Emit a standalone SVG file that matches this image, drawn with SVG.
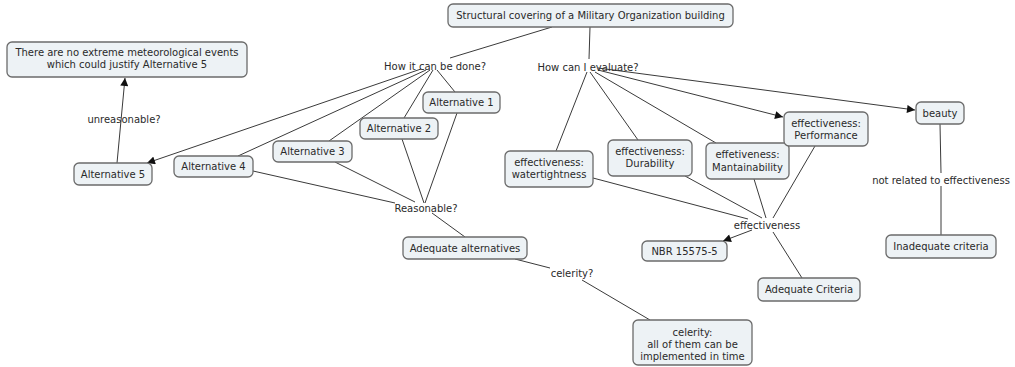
<svg xmlns="http://www.w3.org/2000/svg" width="1015" height="367" viewBox="0 0 1015 367">
<style>
.n rect{fill:#edf2f5;stroke:#6b6b6b;stroke-width:1.3}
text{font-family:"DejaVu Sans",Verdana,sans-serif;font-size:10px;fill:#2a2a2a;text-anchor:middle}
.c line{stroke:#3a3a3a;stroke-width:1;fill:none}
</style>
<defs>
<marker id="ar" viewBox="0 0 10 10" refX="10" refY="5" markerWidth="9" markerHeight="8" markerUnits="userSpaceOnUse" orient="auto">
<path d="M0,0 L10,5 L0,10 z" fill="#111"/>
</marker>
</defs>
<rect width="1015" height="367" fill="#fff"/>
<g class="c" id="connectors">
<line x1="552" y1="27" x2="450" y2="58"/>
<line x1="590" y1="27" x2="589" y2="59"/>
<line x1="437" y1="70" x2="455" y2="92"/>
<line x1="433" y1="70" x2="404" y2="118"/>
<line x1="430" y1="70" x2="329" y2="141"/>
<line x1="426" y1="70" x2="238" y2="156"/>
<line x1="421" y1="69" x2="147" y2="163" marker-end="url(#ar)"/>
<line x1="457" y1="113" x2="425" y2="203"/>
<line x1="402" y1="139" x2="424" y2="203"/>
<line x1="335" y1="162" x2="415" y2="202"/>
<line x1="253" y1="171" x2="395" y2="203"/>
<line x1="432" y1="213" x2="465" y2="237"/>
<line x1="515" y1="259" x2="550" y2="268"/>
<line x1="582" y1="280" x2="650" y2="320"/>
<line x1="117" y1="163" x2="125" y2="78" marker-end="url(#ar)"/>
<line x1="587" y1="72" x2="556" y2="151"/>
<line x1="590" y1="72" x2="638" y2="140"/>
<line x1="595" y1="72" x2="716" y2="143"/>
<line x1="598" y1="70" x2="783" y2="117" marker-end="url(#ar)"/>
<line x1="598" y1="68" x2="915" y2="110" marker-end="url(#ar)"/>
<line x1="593" y1="178" x2="748" y2="219"/>
<line x1="685" y1="176" x2="762" y2="218"/>
<line x1="754" y1="179" x2="766" y2="218"/>
<line x1="815" y1="146" x2="773" y2="218"/>
<line x1="752" y1="230" x2="723" y2="241" marker-end="url(#ar)"/>
<line x1="773" y1="232" x2="802" y2="278"/>
<line x1="940" y1="124" x2="941" y2="173"/>
<line x1="941" y1="186" x2="941" y2="235"/>
</g>
<g id="labels">
<text x="435" y="69.5">How it can be done?</text>
<text x="588" y="70.5">How can I evaluate?</text>
<text x="124" y="122.5">unreasonable?</text>
<text x="426" y="211.5">Reasonable?</text>
<text x="572" y="276.5">celerity?</text>
<text x="767" y="228.5">effectiveness</text>
<text x="941" y="183.5">not related to effectiveness</text>
</g>
<g class="n" id="n-top"><rect x="448" y="4" width="285" height="23" rx="5"/><text x="590.5" y="19">Structural covering of a Military Organization building</text></g>
<g class="n" id="n-meteo"><rect x="7" y="42" width="240" height="35" rx="5"/><text x="127" y="56">There are no extreme meteorological events</text><text x="127" y="67.5">which could justify Alternative 5</text></g>
<g class="n" id="n-alt5"><rect x="74" y="163" width="78" height="22" rx="5"/><text x="113" y="177.5">Alternative 5</text></g>
<g class="n" id="n-alt4"><rect x="174" y="156" width="79" height="21" rx="5"/><text x="213.5" y="170">Alternative 4</text></g>
<g class="n" id="n-alt3"><rect x="273" y="141" width="79" height="21" rx="5"/><text x="312.5" y="155">Alternative 3</text></g>
<g class="n" id="n-alt2"><rect x="360" y="118" width="78" height="21" rx="5"/><text x="399" y="132">Alternative 2</text></g>
<g class="n" id="n-alt1"><rect x="423" y="92" width="77" height="21" rx="5"/><text x="461.5" y="106">Alternative 1</text></g>
<g class="n" id="n-adeqalt"><rect x="403" y="237" width="124" height="22" rx="5"/><text x="465" y="251.5">Adequate alternatives</text></g>
<g class="n" id="n-celerity"><rect x="633" y="320" width="119" height="45" rx="5"/><text x="692.5" y="335.5">celerity:</text><text x="692.5" y="347.5">all of them can be</text><text x="692.5" y="359.5">implemented in time</text></g>
<g class="n" id="n-water"><rect x="505" y="151" width="88" height="36" rx="5"/><text x="549" y="165.5">effectiveness:</text><text x="549" y="177.5">watertightness</text></g>
<g class="n" id="n-dura"><rect x="608" y="140" width="84" height="36" rx="5"/><text x="650" y="154.5">effectiveness:</text><text x="650" y="166.5">Durability</text></g>
<g class="n" id="n-mant"><rect x="706" y="143" width="83" height="36" rx="5"/><text x="747.5" y="158">effetiveness:</text><text x="747.5" y="170.5">Mantainability</text></g>
<g class="n" id="n-perf"><rect x="784" y="112" width="84" height="34" rx="5"/><text x="826" y="126.5">effectiveness:</text><text x="826" y="138.5">Performance</text></g>
<g class="n" id="n-beauty"><rect x="916" y="102" width="48" height="22" rx="5"/><text x="940" y="116.5">beauty</text></g>
<g class="n" id="n-inadeq"><rect x="886" y="235" width="110" height="23" rx="5"/><text x="941" y="250">Inadequate criteria</text></g>
<g class="n" id="n-nbr"><rect x="642" y="241" width="85" height="20" rx="5"/><text x="684.5" y="254.5">NBR 15575-5</text></g>
<g class="n" id="n-adeqcrit"><rect x="758" y="278" width="102" height="23" rx="5"/><text x="809" y="293">Adequate Criteria</text></g>
</svg>
